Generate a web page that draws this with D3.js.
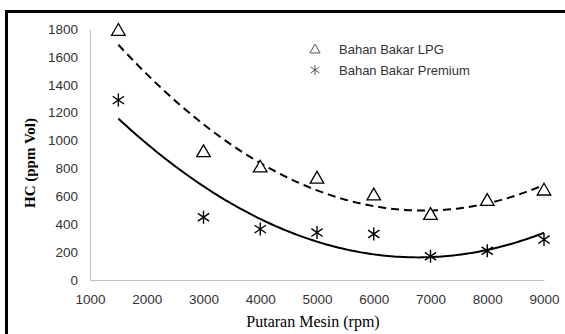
<!DOCTYPE html>
<html>
<head>
<meta charset="utf-8">
<script src="https://cdn.jsdelivr.net/npm/d3@7"></script>
<style>
  body { margin: 0; background: #fff; }
  .tick text { font-family: "Liberation Sans", Arial, sans-serif; font-size: 13.5px; fill: #333; }
  .legend text { font-family: "Liberation Sans", Arial, sans-serif; font-size: 13px; fill: #333; }
</style>
</head>
<body>
<div id="chart"></div>
<script>

// rpm values
var rpm = [1500, 3000, 4000, 5000, 6000, 7000, 8000, 9000];
// HC values
var hcLPG = [1790, 920, 810, 730, 610, 470, 570, 645];
var hcPremium = [1290, 450, 365, 340, 330, 170, 210, 290];

var xTicks = [1000, 2000, 3000, 4000, 5000, 6000, 7000, 8000, 9000];
var yTicks = [0, 200, 400, 600, 800, 1000, 1200, 1400, 1600, 1800];

var W = 565, H = 334;
var margin = { top: 29, right: 21, bottom: 54, left: 90 };
var width = W - margin.left - margin.right;
var height = H - margin.top - margin.bottom;

var svg = d3.select("#chart").append("svg")
    .attr("width", W)
    .attr("height", H);

// frame (only top and left edges visible)
svg.append("path")
    .attr("d", "M6.5,334 L6.5,11.5 L565,11.5")
    .attr("fill", "none")
    .attr("stroke", "black")
    .attr("stroke-width", 3);

var g = svg.append("g")
    .attr("transform", "translate(" + margin.left + "," + margin.top + ")");

var x = d3.scaleLinear().domain([1000, 9000]).range([0, width]);
var y = d3.scaleLinear().domain([0, 1800]).range([height, 0]);

// axes
var xAxis = d3.axisBottom(x).tickValues(xTicks).tickFormat(d3.format("d")).tickSize(0).tickPadding(14);
var yAxis = d3.axisLeft(y).tickValues(yTicks).tickFormat(d3.format("d")).tickSize(0).tickPadding(12);

g.append("g")
    .attr("class", "x-axis")
    .attr("transform", "translate(0," + height + ")")
    .call(xAxis)
    .call(function (s) { s.select(".domain").attr("stroke", "#bfbfbf"); });

g.append("g")
    .attr("class", "y-axis")
    .call(yAxis)
    .call(function (s) { s.select(".domain").attr("stroke", "#bfbfbf"); });

// axis titles
svg.append("text")
    .attr("x", margin.left + width / 2 - 4)
    .attr("y", 327)
    .attr("text-anchor", "middle")
    .style("font-family", "'Liberation Serif', 'Times New Roman', serif")
    .style("font-size", "16px")
    .text("Putaran Mesin (rpm)");

svg.append("text")
    .attr("transform", "translate(35,163) rotate(-90)")
    .attr("text-anchor", "middle")
    .style("font-family", "'Liberation Serif', 'Times New Roman', serif")
    .style("font-size", "15px")
    .style("font-weight", "bold")
    .text("HC (ppm Vol)");

// quadratic least squares trendline (like the spreadsheet's polynomial trendline)
function polyFit(xs, ys) {
    var n = xs.length, s = [0, 0, 0, 0, 0], t = [0, 0, 0];
    for (var i = 0; i < n; i++) {
        var xv = xs[i] / 1000, p = 1;
        for (var k = 0; k < 5; k++) { s[k] += p; if (k < 3) t[k] += p * ys[i]; p *= xv; }
    }
    var A = [[s[0], s[1], s[2], t[0]], [s[1], s[2], s[3], t[1]], [s[2], s[3], s[4], t[2]]];
    for (var c = 0; c < 3; c++) {
        for (var r = c + 1; r < 3; r++) {
            var f = A[r][c] / A[c][c];
            for (var j = c; j < 4; j++) A[r][j] -= f * A[c][j];
        }
    }
    var b = [0, 0, 0];
    for (var r2 = 2; r2 >= 0; r2--) {
        var sum = A[r2][3];
        for (var j2 = r2 + 1; j2 < 3; j2++) sum -= A[r2][j2] * b[j2];
        b[r2] = sum / A[r2][r2];
    }
    return function (xv) { xv = xv / 1000; return b[0] + b[1] * xv + b[2] * xv * xv; };
}

var fitLPG = polyFit(rpm, hcLPG);
var fitPremium = polyFit(rpm, hcPremium);

var xs = d3.range(1500, 9001, 50);
var line = function (fn) {
    return d3.line()
        .x(function (d) { return x(d); })
        .y(function (d) { return y(fn(d)); })
        .curve(d3.curveLinear)(xs);
};

g.append("path")
    .attr("d", line(fitLPG))
    .attr("fill", "none")
    .attr("stroke", "black")
    .attr("stroke-width", 2)
    .attr("stroke-dasharray", "8,5");

g.append("path")
    .attr("d", line(fitPremium))
    .attr("fill", "none")
    .attr("stroke", "black")
    .attr("stroke-width", 2);

// markers
var tri = d3.symbol().type(d3.symbolTriangle).size(80);
function star(s) {
    return "M0," + (-s) + "L0," + s +
        "M" + (-s * 0.87) + "," + (-s * 0.6) + "L" + (s * 0.87) + "," + (s * 0.6) +
        "M" + (-s * 0.87) + "," + (s * 0.6) + "L" + (s * 0.87) + "," + (-s * 0.6);
}

g.selectAll(".lpg")
    .data(rpm)
    .enter().append("path")
    .attr("class", "lpg")
    .attr("d", tri)
    .attr("transform", function (d, i) { return "translate(" + x(d) + "," + (y(hcLPG[i]) + 1) + ")"; })
    .attr("fill", "white")
    .attr("stroke", "black")
    .attr("stroke-width", 1.3);

g.selectAll(".prem")
    .data(rpm)
    .enter().append("path")
    .attr("class", "prem")
    .attr("d", star(6.5))
    .attr("transform", function (d, i) { return "translate(" + x(d) + "," + y(hcPremium[i]) + ")"; })
    .attr("fill", "none")
    .attr("stroke", "black")
    .attr("stroke-width", 1.4);

// legend
var legendNames = ["Bahan Bakar LPG", "Bahan Bakar Premium"];
var legend = svg.append("g").attr("class", "legend");

legend.selectAll("text")
    .data(legendNames)
    .enter().append("text")
    .attr("x", 339)
    .attr("y", function (d, i) { return 49 + i * 21; })
    .attr("dy", "0.35em")
    .text(function (d) { return d; });

legend.append("path")
    .attr("d", d3.symbol().type(d3.symbolTriangle).size(45))
    .attr("transform", "translate(315,50)")
    .attr("fill", "none")
    .attr("stroke", "#555")
    .attr("stroke-width", 1);

legend.append("path")
    .attr("d", star(5))
    .attr("transform", "translate(315,70)")
    .attr("fill", "none")
    .attr("stroke", "#555")
    .attr("stroke-width", 1);

</script>
</body>
</html>
